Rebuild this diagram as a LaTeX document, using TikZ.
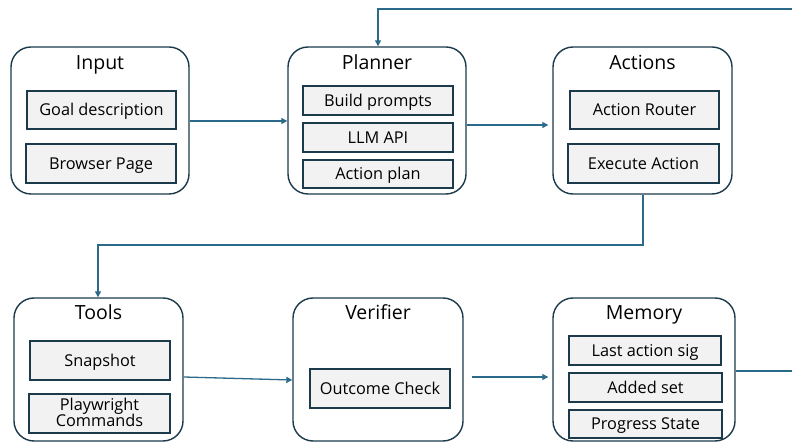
\documentclass[tikz,border=0pt]{standalone}
\usepackage{fontspec}
\setmainfont{Open Sans}
\usetikzlibrary{arrows.meta}
\definecolor{frame}{HTML}{1B3A4B}
\definecolor{flow}{HTML}{2B6A8A}
\definecolor{cell}{HTML}{F2F2F2}
\tikzset{
  x=1pt, y=-1pt,
  group/.style={draw=frame, line width=1.4pt, rounded corners=20pt, fill=white},
  item/.style={draw=frame, line width=1.4pt, fill=cell, inner sep=0pt, font=\fontsize{16.3}{15}\selectfont, align=center, text height=11.6pt, text depth=0pt},
  title/.style={font=\fontsize{19.5}{20}\selectfont, anchor=center, inner sep=0pt, text height=13.9pt, text depth=0pt},
  flowline/.style={draw=flow, line width=1.3pt, -{Triangle[length=6pt,width=6pt]}},
}
\begin{document}
\begin{tikzpicture}
\useasboundingbox (0,0) rectangle (792,443);
\clip (0,0) rectangle (792,443);

% ---- upper row ----
\node[group, minimum width=178pt, minimum height=147pt] (input) at (100,120.5) {};
\node[title] (inputT) at (100,62.5) {Input};
\node[item, minimum width=149pt, minimum height=38pt] (goal) at (101.5,110) {Goal description};
\node[item, minimum width=150pt, minimum height=39pt] (page) at (101,163.5) {Browser Page};

\node[group, minimum width=178pt, minimum height=147pt] (planner) at (377,120.5) {};
\node[title] (plannerT) at (377,62.5) {Planner};
\node[item, minimum width=150pt, minimum height=29pt] (prompts) at (378,100.5) {Build prompts};
\node[item, minimum width=150pt, minimum height=29pt] (llm) at (378,137.5) {LLM API};
\node[item, minimum width=150pt, minimum height=28pt] (plan) at (378,174) {Action plan};

\node[group, minimum width=179pt, minimum height=147pt] (actions) at (642.5,120.5) {};
\node[title] (actionsT) at (642.5,62.5) {Actions};
\node[item, minimum width=149pt, minimum height=38pt] (router) at (644.5,110) {Action Router};
\node[item, minimum width=151pt, minimum height=39pt] (exec) at (643.5,163.5) {Execute Action};

% ---- lower row ----
\node[group, minimum width=169pt, minimum height=143pt] (tools) at (98.5,369.5) {};
\node[title] (toolsT) at (98.5,312.5) {Tools};
\node[item, minimum width=140pt, minimum height=39pt] (snap) at (100,360.5) {Snapshot};
\node[item, minimum width=141pt, minimum height=39pt, text height=0pt] (pw) at (99.5,413.5) {};
\node[font=\fontsize{16.3}{12}\selectfont, align=center, inner sep=0pt] (pwT) at (99.5,412) {Playwright\\[-1.5pt]Commands};

\node[group, minimum width=170pt, minimum height=143pt] (verifier) at (378,369.5) {};
\node[title] (verifierT) at (378,312.5) {Verifier};
\node[item, minimum width=140pt, minimum height=39pt] (outcome) at (380,388.5) {Outcome Check};

\node[group, minimum width=182pt, minimum height=143pt] (memory) at (644,369.5) {};
\node[title] (memoryT) at (644,312.5) {Memory};
\node[item, minimum width=152pt, minimum height=29pt] (lastsig) at (645,350.5) {Last action sig};
\node[item, minimum width=153pt, minimum height=29pt] (added) at (645.5,387.5) {Added set};
\node[item, minimum width=153pt, minimum height=28pt] (progress) at (645.5,424) {Progress State};

% ---- connectors ----
\coordinate (offR) at (800,371);
\coordinate (offT) at (800,9);
\draw[flowline] (input.east |- 0,121) -- (planner.west |- 0,121);
\draw[flowline] (planner.east |- 0,125) -- ([xshift=-4pt]actions.west |- 0,125);
\draw[flowline] (memory.east |- 0,371) -- (offR) -- (offT) -- (378,9) -- (planner.north -| 378,0);
\draw[flowline] (actions.south -| 643,0) -- (643,245) -- (98,245) -- (tools.north -| 98,0);
\draw[flowline] (tools.east |- 0,377) -- (verifier.west |- 0,380);
\draw[flowline] ([xshift=8pt]verifier.east |- 0,377) -- ([xshift=-4pt]memory.west |- 0,377);
\end{tikzpicture}
\end{document}
